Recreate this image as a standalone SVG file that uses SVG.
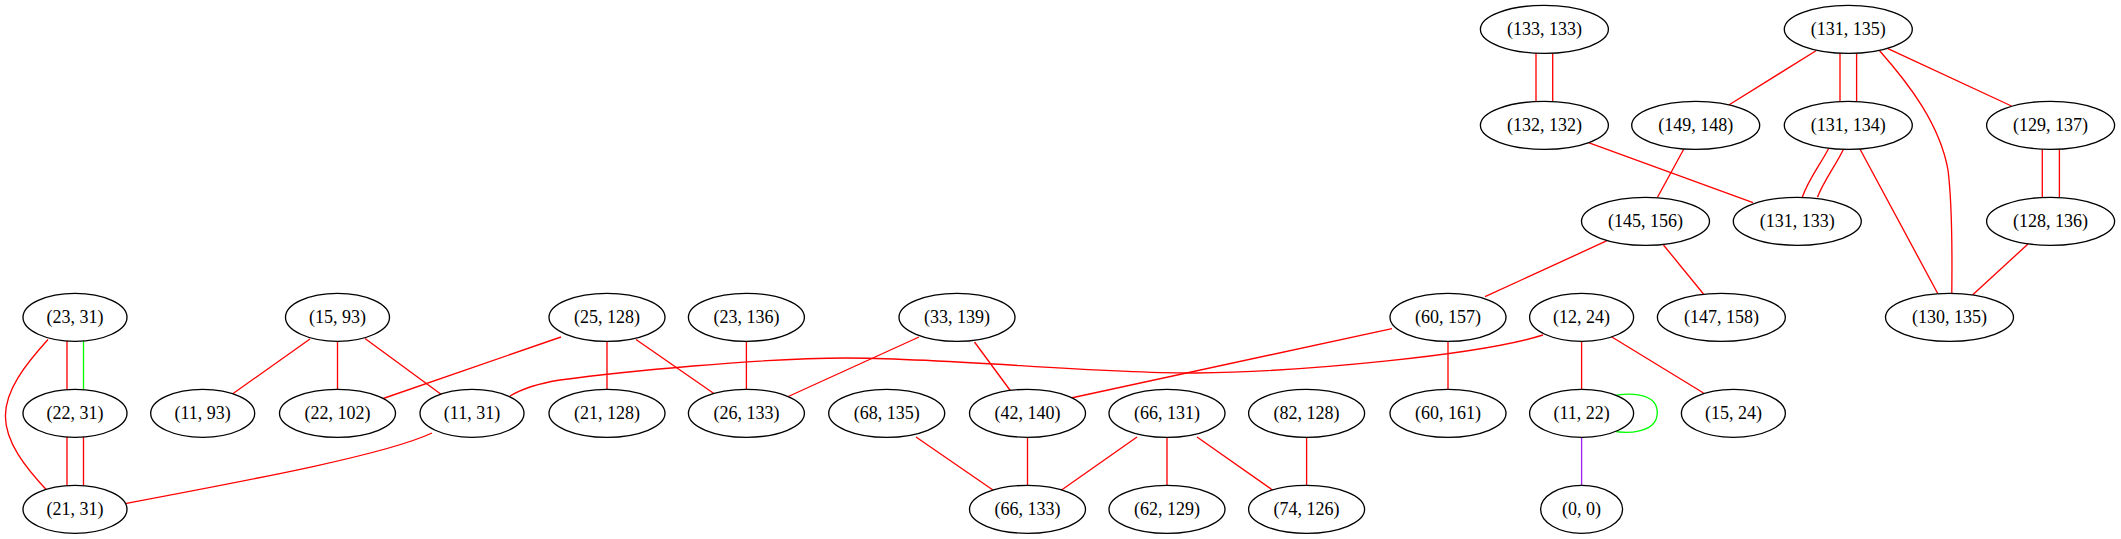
<svg xmlns="http://www.w3.org/2000/svg" width="2121" height="539" viewBox="0 0 2121 539">
<style>
.e{fill:none;stroke:#ff0000;stroke-width:1.33}
.g{fill:none;stroke:#00ff00;stroke-width:1.33}
.p{fill:none;stroke:#a020f0;stroke-width:1.33}
.n ellipse{fill:#ffffff;stroke:#000000;stroke-width:1.33}
.n text{font-family:"Liberation Serif","Times New Roman",serif;font-size:18px;text-anchor:middle;fill:#000000}
</style>
<rect width="2121" height="539" fill="#ffffff"/>
<g id="edges">
<path class="e" d="M67,340 L67,391"/>
<path class="g" d="M83.5,340 L83.5,391"/>
<path class="e" d="M67,436 L67,487"/>
<path class="e" d="M83.5,436 L83.5,487"/>
<path class="e" d="M48,339.5 C25,365 5.4,390 5.4,416 C5.4,442 25,467 48,491.5"/>
<path class="e" d="M310,339 L231,395"/>
<path class="e" d="M337.5,341 L337.5,390"/>
<path class="e" d="M365,338.5 L442,395"/>
<path class="e" d="M561,337 L381.7,399"/>
<path class="e" d="M607,341 L607,390"/>
<path class="e" d="M636,339.5 L716,395"/>
<path class="e" d="M432,433 C385,455 250,480 122.8,504"/>
<path class="e" d="M1543,335 C1480,355 1300,372 1196,373 C1100,374 950,358 846,358 C760,358 620,372 560,380 C535,384 520,390 510,396"/>
<path class="e" d="M746.4,341 L746.4,390"/>
<path class="e" d="M919,337 L785,398"/>
<path class="e" d="M974.5,342 L1011,391.5"/>
<path class="e" d="M1392,328.6 L1071,398"/>
<path class="e" d="M916,437 L998,493.5"/>
<path class="e" d="M1027.5,437 L1027.5,486"/>
<path class="e" d="M1137,437 L1056.6,493.5"/>
<path class="e" d="M1167,437 L1167,486"/>
<path class="e" d="M1197,437 L1277.5,493.5"/>
<path class="e" d="M1306.6,437 L1306.6,486"/>
<path class="e" d="M1448,341 L1448,390"/>
<path class="e" d="M1581.6,341 L1581.6,390"/>
<path class="e" d="M1611.5,336.7 L1703.5,393"/>
<path class="g" d="M1612,396 C1625,393 1657.3,391 1657.3,412.5 C1657.3,434 1625,434 1612,430.5"/>
<path class="p" d="M1581.6,437 L1581.6,486"/>
<path class="e" d="M1536,52.7 L1536,101.5"/>
<path class="e" d="M1552.7,52.7 L1552.7,101.5"/>
<path class="e" d="M1588.5,142.7 L1753,202.7"/>
<path class="e" d="M1816,50.7 L1728.8,105"/>
<path class="e" d="M1840,52.7 L1840,101.5"/>
<path class="e" d="M1856.6,52.7 L1856.6,101.5"/>
<path class="e" d="M1879.6,50.7 C1910,85 1940,125 1948,170 C1953,210 1952,260 1951.8,293.3"/>
<path class="e" d="M1887.4,48.3 L2011.5,106"/>
<path class="e" d="M1683.7,149.3 L1657.5,197.3"/>
<path class="e" d="M1828.5,148.7 C1820,165 1808,180 1802.3,197.3"/>
<path class="e" d="M1843.7,148.7 C1836,165 1823,182 1817.5,197.3"/>
<path class="e" d="M1859.8,148.7 L1938,294"/>
<path class="e" d="M2042.3,148.7 L2042.3,197.5"/>
<path class="e" d="M2059.4,148.7 L2059.4,197.5"/>
<path class="e" d="M2028,244 L1972.5,295"/>
<path class="e" d="M1607,240.7 L1485,296.7"/>
<path class="e" d="M1663.5,245 L1703.5,294"/>
</g>
<g id="n133_133" class="n"><ellipse cx="1544.4" cy="29.3" rx="64" ry="24"/><text x="1544.4" y="34.9">(133, 133)</text></g>
<g id="n131_135" class="n"><ellipse cx="1848.3" cy="29.3" rx="64" ry="24"/><text x="1848.3" y="34.9">(131, 135)</text></g>
<g id="n132_132" class="n"><ellipse cx="1544.4" cy="125.3" rx="64" ry="24"/><text x="1544.4" y="130.9">(132, 132)</text></g>
<g id="n149_148" class="n"><ellipse cx="1695.7" cy="125.3" rx="64" ry="24"/><text x="1695.7" y="130.9">(149, 148)</text></g>
<g id="n131_134" class="n"><ellipse cx="1848.3" cy="125.3" rx="64" ry="24"/><text x="1848.3" y="130.9">(131, 134)</text></g>
<g id="n129_137" class="n"><ellipse cx="2050.6" cy="125.3" rx="64" ry="24"/><text x="2050.6" y="130.9">(129, 137)</text></g>
<g id="n145_156" class="n"><ellipse cx="1645.5" cy="221.3" rx="64" ry="24"/><text x="1645.5" y="226.9">(145, 156)</text></g>
<g id="n131_133" class="n"><ellipse cx="1797.3" cy="221.3" rx="64" ry="24"/><text x="1797.3" y="226.9">(131, 133)</text></g>
<g id="n128_136" class="n"><ellipse cx="2050.6" cy="221.3" rx="64" ry="24"/><text x="2050.6" y="226.9">(128, 136)</text></g>
<g id="n23_31" class="n"><ellipse cx="75" cy="317.3" rx="52" ry="24"/><text x="75" y="322.9">(23, 31)</text></g>
<g id="n15_93" class="n"><ellipse cx="337.5" cy="317.3" rx="52" ry="24"/><text x="337.5" y="322.9">(15, 93)</text></g>
<g id="n25_128" class="n"><ellipse cx="607" cy="317.3" rx="58" ry="24"/><text x="607" y="322.9">(25, 128)</text></g>
<g id="n23_136" class="n"><ellipse cx="746.4" cy="317.3" rx="58" ry="24"/><text x="746.4" y="322.9">(23, 136)</text></g>
<g id="n33_139" class="n"><ellipse cx="957" cy="317.3" rx="58" ry="24"/><text x="957" y="322.9">(33, 139)</text></g>
<g id="n60_157" class="n"><ellipse cx="1448" cy="317.3" rx="58" ry="24"/><text x="1448" y="322.9">(60, 157)</text></g>
<g id="n12_24" class="n"><ellipse cx="1581.6" cy="317.3" rx="52" ry="24"/><text x="1581.6" y="322.9">(12, 24)</text></g>
<g id="n147_158" class="n"><ellipse cx="1721.4" cy="317.3" rx="64" ry="24"/><text x="1721.4" y="322.9">(147, 158)</text></g>
<g id="n130_135" class="n"><ellipse cx="1949.5" cy="317.3" rx="64" ry="24"/><text x="1949.5" y="322.9">(130, 135)</text></g>
<g id="n22_31" class="n"><ellipse cx="75" cy="413.3" rx="52" ry="24"/><text x="75" y="418.9">(22, 31)</text></g>
<g id="n11_93" class="n"><ellipse cx="202.7" cy="413.3" rx="52" ry="24"/><text x="202.7" y="418.9">(11, 93)</text></g>
<g id="n22_102" class="n"><ellipse cx="337.5" cy="413.3" rx="58" ry="24"/><text x="337.5" y="418.9">(22, 102)</text></g>
<g id="n11_31" class="n"><ellipse cx="472" cy="413.3" rx="52" ry="24"/><text x="472" y="418.9">(11, 31)</text></g>
<g id="n21_128" class="n"><ellipse cx="607" cy="413.3" rx="58" ry="24"/><text x="607" y="418.9">(21, 128)</text></g>
<g id="n26_133" class="n"><ellipse cx="746.4" cy="413.3" rx="58" ry="24"/><text x="746.4" y="418.9">(26, 133)</text></g>
<g id="n68_135" class="n"><ellipse cx="886.7" cy="413.3" rx="58" ry="24"/><text x="886.7" y="418.9">(68, 135)</text></g>
<g id="n42_140" class="n"><ellipse cx="1027.5" cy="413.3" rx="58" ry="24"/><text x="1027.5" y="418.9">(42, 140)</text></g>
<g id="n66_131" class="n"><ellipse cx="1167" cy="413.3" rx="58" ry="24"/><text x="1167" y="418.9">(66, 131)</text></g>
<g id="n82_128" class="n"><ellipse cx="1306.6" cy="413.3" rx="58" ry="24"/><text x="1306.6" y="418.9">(82, 128)</text></g>
<g id="n60_161" class="n"><ellipse cx="1448" cy="413.3" rx="58" ry="24"/><text x="1448" y="418.9">(60, 161)</text></g>
<g id="n11_22" class="n"><ellipse cx="1581.6" cy="413.3" rx="52" ry="24"/><text x="1581.6" y="418.9">(11, 22)</text></g>
<g id="n15_24" class="n"><ellipse cx="1733.4" cy="413.3" rx="52" ry="24"/><text x="1733.4" y="418.9">(15, 24)</text></g>
<g id="n21_31" class="n"><ellipse cx="75" cy="509.3" rx="52" ry="24"/><text x="75" y="514.9">(21, 31)</text></g>
<g id="n66_133" class="n"><ellipse cx="1027.5" cy="509.3" rx="58" ry="24"/><text x="1027.5" y="514.9">(66, 133)</text></g>
<g id="n62_129" class="n"><ellipse cx="1167" cy="509.3" rx="58" ry="24"/><text x="1167" y="514.9">(62, 129)</text></g>
<g id="n74_126" class="n"><ellipse cx="1306.6" cy="509.3" rx="58" ry="24"/><text x="1306.6" y="514.9">(74, 126)</text></g>
<g id="n0_0" class="n"><ellipse cx="1581.6" cy="509.3" rx="41" ry="24"/><text x="1581.6" y="514.9">(0, 0)</text></g>
</svg>
